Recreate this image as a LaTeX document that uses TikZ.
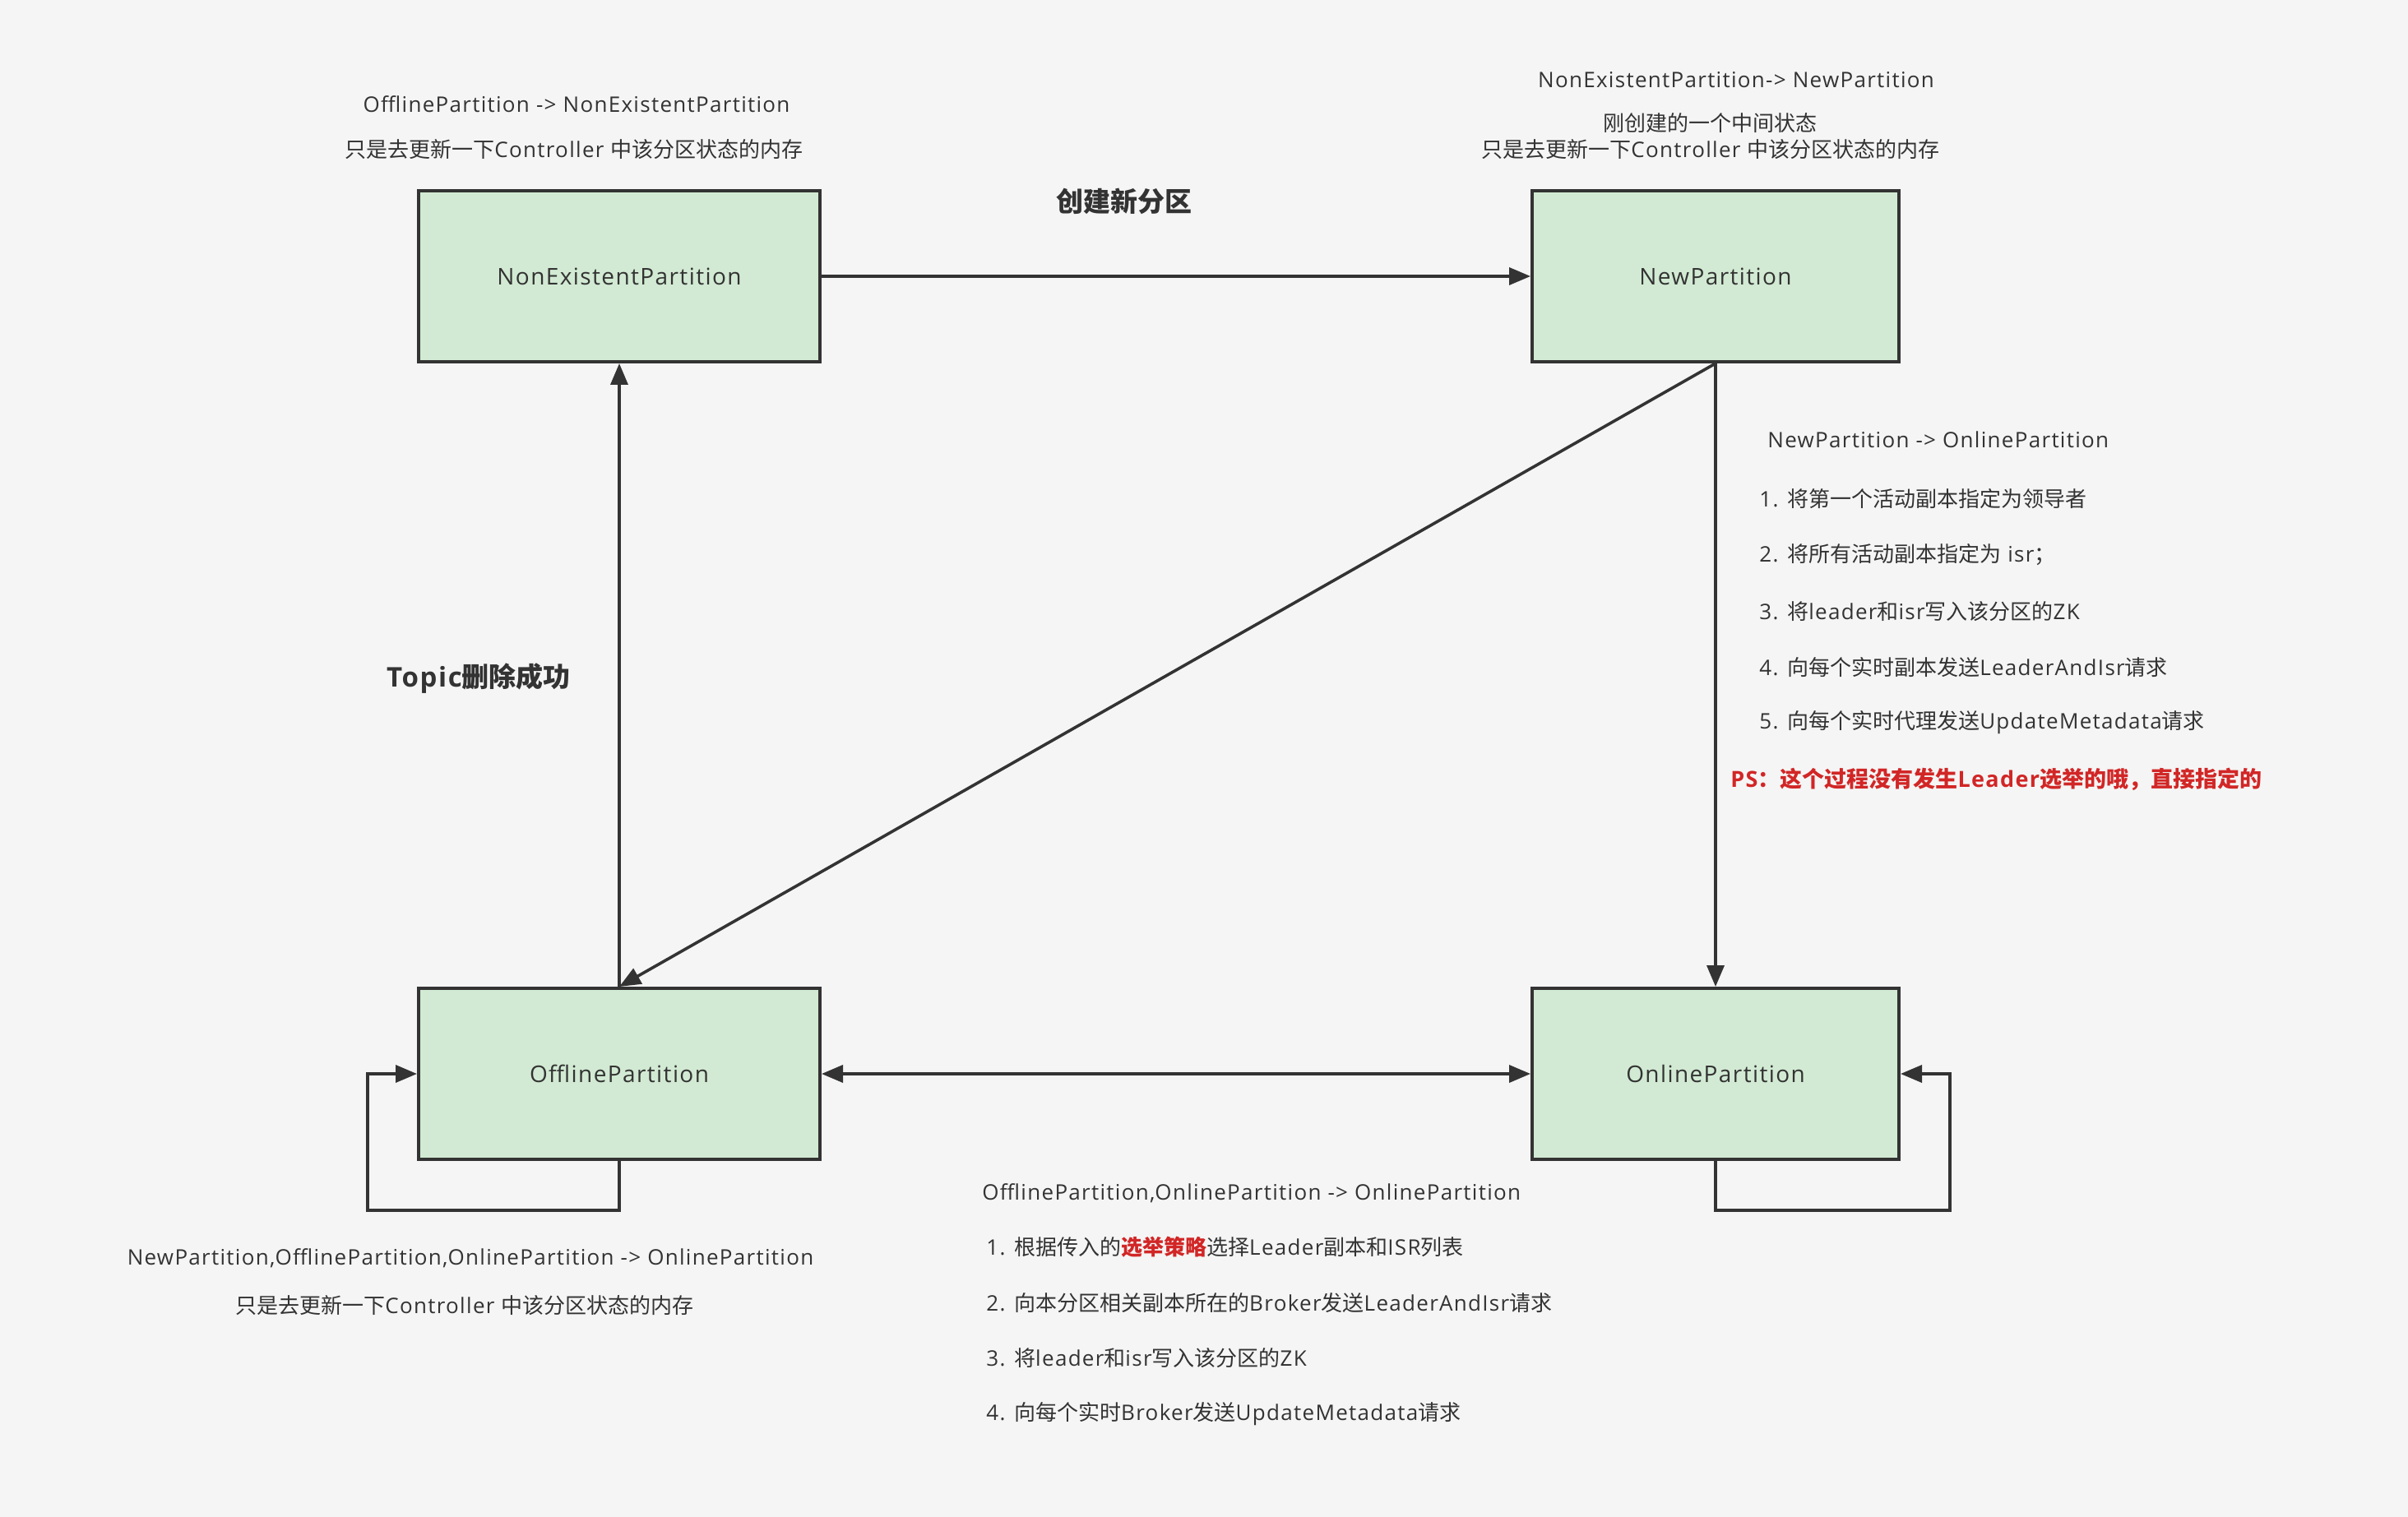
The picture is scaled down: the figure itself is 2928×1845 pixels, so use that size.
\documentclass[tikz,border=0pt]{standalone}
\usepackage{fontspec}
\setmainfont{Open Sans}[LetterSpace=5]
\newfontfamily\cjkfont{Noto Sans CJK SC}
% CJK characters go to the CJK family
\XeTeXinterchartokenstate=1
\newXeTeXintercharclass\cjkclass
\newcount\cjkcode
\cjkcode="4E00 \loop\XeTeXcharclass\cjkcode=\cjkclass \advance\cjkcode 1 \ifnum\cjkcode<"A000 \repeat
\cjkcode="FF00 \loop\XeTeXcharclass\cjkcode=\cjkclass \advance\cjkcode 1 \ifnum\cjkcode<"FF20 \repeat
\XeTeXinterchartoks 0 \cjkclass = {\begingroup\cjkfont}
\XeTeXinterchartoks 4095 \cjkclass = {\begingroup\cjkfont}
\XeTeXinterchartoks \cjkclass 0 = {\endgroup}
\XeTeXinterchartoks \cjkclass 4095 = {\endgroup}
\usetikzlibrary{arrows.meta,positioning}
\definecolor{bg}{RGB}{245,245,245}
\definecolor{boxgreen}{RGB}{210,234,211}
\definecolor{ink}{RGB}{51,51,51}
\definecolor{alert}{RGB}{210,38,38}
\tikzset{
  state/.style={draw=ink, line width=2pt, fill=boxgreen, minimum height=104pt, text=ink, font=\fontsize{14}{16}\selectfont},
  note/.style={text=ink, inner sep=0pt, font=\fontsize{13}{15}\selectfont},
  headline/.style={text=ink, inner sep=0pt, font=\fontsize{16.5}{18}\selectfont\bfseries},
  flow/.style={draw=ink, line width=1.8pt, -{Triangle[length=13pt,width=10.5pt]}}
}
\begin{document}
\begin{tikzpicture}[x=0.5pt,y=-0.5pt]
\fill[bg] (0,0) rectangle (2928,1845);
\useasboundingbox (0,0) rectangle (2928,1845);
% the four states
\node[state, minimum width=244pt] (nonexist) at (753,336) {NonExistentPartition};
\node[state, minimum width=223pt] (new) at (2086,336) {NewPartition};
\node[state, minimum width=244pt] (offline) at (753,1306) {OfflinePartition};
\node[state, minimum width=223pt] (online) at (2086,1306) {OnlinePartition};
% transitions
\draw[flow] (nonexist) -- (new);
\draw[flow] (new.south) -- (offline.north);
\draw[flow] (offline.north) -- (nonexist.south);
\draw[flow] (new.south) -- (online.north);
\draw[flow, {Triangle[length=13pt,width=10.5pt]}-{Triangle[length=13pt,width=10.5pt]}] (offline) -- (online);
\draw[flow] (offline.south) -- ++(0,60) -| ([xshift=-30pt]offline.west) -- (offline.west);
\draw[flow] (online.south) -- ++(0,60) -| ([xshift=30pt]online.east) -- (online.east);
% labels
\node[headline] (create) at (1367,245) {创建新分区};
\node[headline] (delete) at (582,825) {Topic删除成功};
\node[note] (offtonon) at (701,127) {OfflinePartition -> NonExistentPartition};
\node[note] (offtononmem) at (698,182) {只是去更新一下Controller 中该分区状态的内存};
\node[note] (nontonew) at (2111,97) {NonExistentPartition-> NewPartition};
\node[note] (nontonewmid) at (2079,150) {刚创建的一个中间状态};
\node[note] (nontonewmem) at (2080,182) {只是去更新一下Controller 中该分区状态的内存};
% NewPartition -> OnlinePartition
\node[note, anchor=west] (newtoon) at (2149,535) {NewPartition -> OnlinePartition};
\node[note, anchor=west] (newtoon1) at (2139,607) {1. 将第一个活动副本指定为领导者};
\node[note, anchor=west] (newtoon2) at (2139,675) {2. 将所有活动副本指定为 isr；};
\node[note, anchor=west] (newtoon3) at (2139,744) {3. 将leader和isr写入该分区的ZK};
\node[note, anchor=west] (newtoon4) at (2139,812) {4. 向每个实时副本发送LeaderAndIsr请求};
\node[note, anchor=west] (newtoon5) at (2139,879) {5. 向每个实时代理发送UpdateMetadata请求};
\node[note, anchor=west, text=alert, font=\fontsize{13.5}{15}\selectfont\bfseries] (newtoonps) at (2104,948) {PS：这个过程没有发生Leader选举的哦，直接指定的};
% -> OnlinePartition
\node[note, anchor=west] (anytoon) at (1194,1451) {OfflinePartition,OnlinePartition -> OnlinePartition};
\node[note, anchor=west] (anytoon1) at (1199,1517) {\XeTeXinterchartokenstate=0 1. {\cjkfont 根据传入的}{\color{alert}\bfseries\cjkfont 选举策略}{\cjkfont 选择}Leader{\cjkfont 副本和}ISR{\cjkfont 列表}};
\node[note, anchor=west] (anytoon2) at (1199,1585) {2. 向本分区相关副本所在的Broker发送LeaderAndIsr请求};
\node[note, anchor=west] (anytoon3) at (1199,1652) {3. 将leader和isr写入该分区的ZK};
\node[note, anchor=west] (anytoon4) at (1199,1720) {4. 向每个实时Broker发送UpdateMetadata请求};
\node[note] (alltoon) at (572,1530) {NewPartition,OfflinePartition,OnlinePartition -> OnlinePartition};
\node[note] (alltoonmem) at (565,1588) {只是去更新一下Controller 中该分区状态的内存};
\end{tikzpicture}
\end{document}
